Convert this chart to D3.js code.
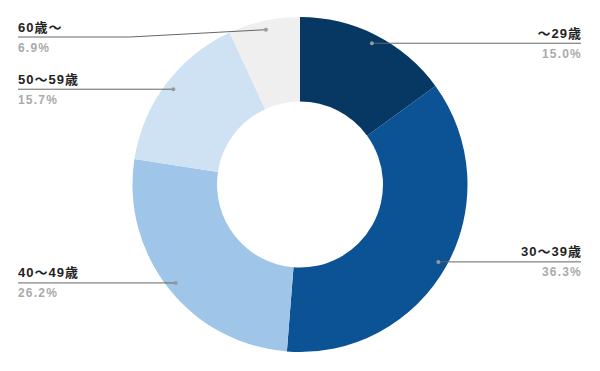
<!DOCTYPE html>
<html><head><meta charset="utf-8">
<script src="https://cdn.jsdelivr.net/npm/d3@7"></script>
<style>
html,body{margin:0;padding:0;background:#fff;}
svg{display:block;}
</style>
</head><body>
<svg id="chart" width="600" height="371"></svg>
<script>
const categories = ["〜29歳", "30〜39歳", "40〜49歳", "50〜59歳", "60歳〜"];
const values = [15.0, 36.3, 26.2, 15.7, 6.9];
const valueLabels = ["15.0%", "36.3%", "26.2%", "15.7%", "6.9%"];
const colors = ["#073763", "#0b5394", "#9fc5e8", "#cfe2f3", "#efefef"];

const W = 600, H = 371;
const cx = 300, cy = 184.5, rOuter = 167.5, rInner = 83, rDot = 158.5;
const leftX = 18, rightX = 581, minLineY = 37, elbowX = 130;

const svg = d3.select("#chart");
const g = svg.append("g").attr("transform", `translate(${cx},${cy})`);

const data = categories.map((c, i) => ({ cat: c, value: values[i], label: valueLabels[i], color: colors[i] }));
const pie = d3.pie().sort(null).value(d => d.value);
const arcs = pie(data);
const arc = d3.arc().innerRadius(rInner).outerRadius(rOuter);
const dotArc = d3.arc().innerRadius(rDot).outerRadius(rDot);

g.selectAll("path.slice").data(arcs).enter().append("path")
  .attr("class", "slice")
  .attr("d", arc)
  .attr("fill", d => d.data.color);

const font = "'Liberation Sans', Arial, 'Noto Sans CJK JP', sans-serif";
const labels = svg.append("g");
arcs.forEach(a => {
  const [dx, dy] = dotArc.centroid(a);
  const px = cx + dx, py = cy + dy;
  const right = dx > 0;
  const ly = Math.max(py, minLineY);
  let pts;
  if (right) {
    pts = [[px, py], [rightX, ly]];
  } else if (ly !== py) {
    pts = [[leftX, ly], [elbowX, ly], [px, py]];
  } else {
    pts = [[leftX, ly], [px, py]];
  }
  labels.append("path")
    .attr("d", d3.line()(pts))
    .attr("fill", "none")
    .attr("stroke", "#666")
    .attr("stroke-width", 1);
  labels.append("circle")
    .attr("cx", px).attr("cy", py).attr("r", 2)
    .attr("fill", "#999");
  const anchor = right ? "end" : "start";
  const tx = right ? rightX : leftX;
  labels.append("text")
    .attr("x", right ? tx + 1 : tx).attr("y", ly - 5.5)
    .attr("text-anchor", anchor)
    .attr("font-family", font)
    .attr("font-weight", "bold")
    .attr("font-size", 13)
    .attr("letter-spacing", 1)
    .attr("fill", "#222")
    .text(a.data.cat);
  labels.append("text")
    .attr("x", right ? tx + 1 : tx).attr("y", ly + 14.5)
    .attr("text-anchor", anchor)
    .attr("font-family", font)
    .attr("font-weight", "bold")
    .attr("font-size", 12)
    .attr("letter-spacing", 1.2)
    .attr("fill", "#aaa")
    .text(a.data.label);
});
</script>
</body></html>
